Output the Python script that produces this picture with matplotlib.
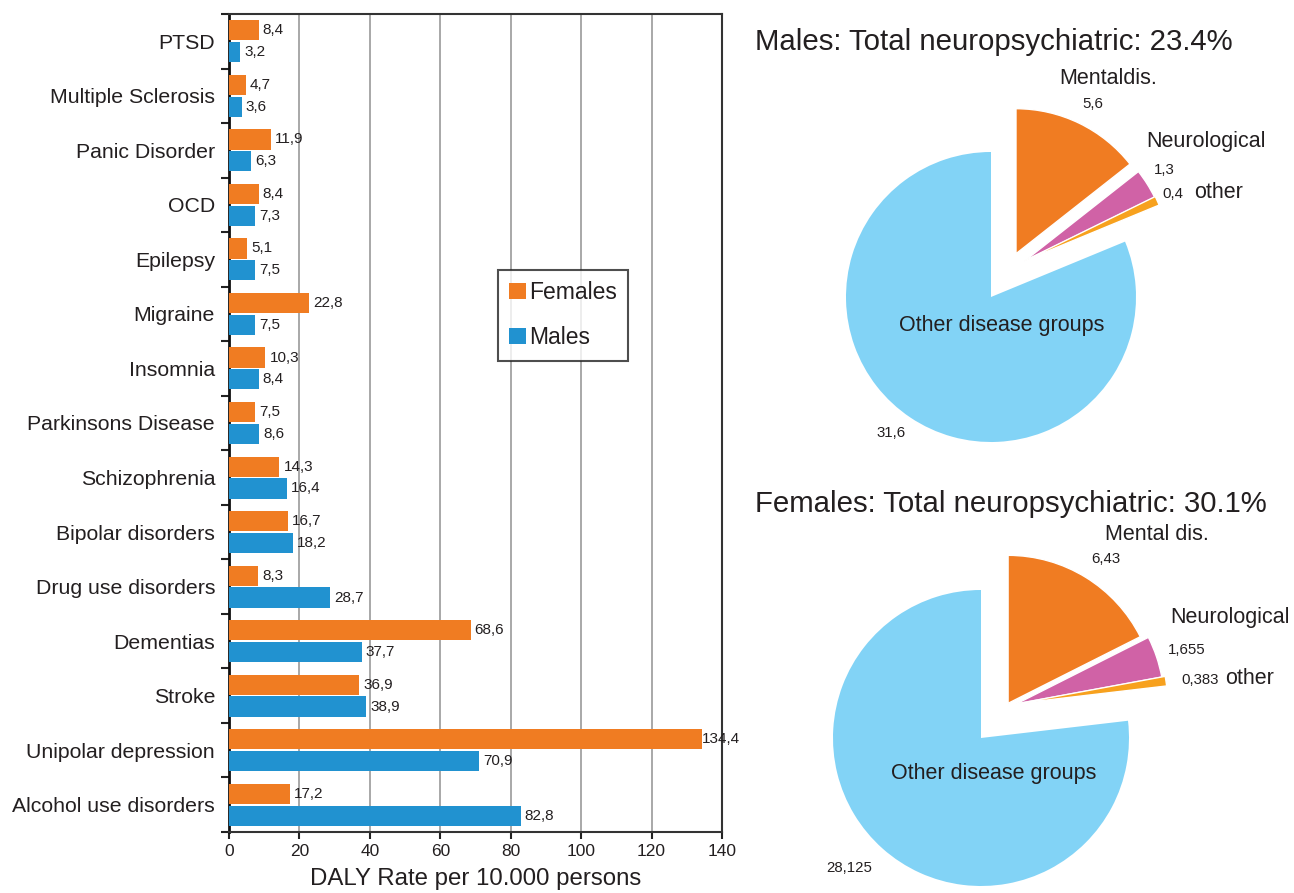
import math
import matplotlib
matplotlib.use('Agg')
import matplotlib.pyplot as plt
from matplotlib.patches import Patch
from matplotlib.ticker import FixedLocator

plt.rcParams['font.family'] = ['Liberation Sans', 'DejaVu Sans']

# ---------------- data ----------------
categories = ["PTSD", "Multiple Sclerosis", "Panic Disorder", "OCD", "Epilepsy",
              "Migraine", "Insomnia", "Parkinsons Disease", "Schizophrenia",
              "Bipolar disorders", "Drug use disorders", "Dementias", "Stroke",
              "Unipolar depression", "Alcohol use disorders"]
females = [8.4, 4.7, 11.9, 8.4, 5.1, 22.8, 10.3, 7.5, 14.3, 16.7, 8.3, 68.6, 36.9, 134.4, 17.2]
males = [3.2, 3.6, 6.3, 7.3, 7.5, 7.5, 8.4, 8.6, 16.4, 18.2, 28.7, 37.7, 38.9, 70.9, 82.8]
x_ticks = [0, 20, 40, 60, 80, 100, 120, 140]

male_pie_names = ["Mentaldis.", "Neurological", "other", "Other disease groups"]
male_pie = [5.6, 1.3, 0.4, 31.6]
male_pie_text = ["5,6", "1,3", "0,4", "31,6"]
female_pie_names = ["Mental dis.", "Neurological", "other", "Other disease groups"]
female_pie = [6.43, 1.655, 0.383, 28.125]
female_pie_text = ["6,43", "1,655", "0,383", "28,125"]
male_title = "Males: Total neuropsychiatric: 23.4%"
female_title = "Females: Total neuropsychiatric: 30.1%"

# ---------------- style ----------------
ORANGE = '#F07C22'
BLUE = '#2192D0'
PINK = '#D062A6'
YELLOW = '#F7A11E'
LIGHTBLUE = '#82D3F6'
TXT = '#231F20'
pie_colors = [ORANGE, PINK, YELLOW, LIGHTBLUE]

W, H = 1294, 893
fig = plt.figure(figsize=(W / 100, H / 100), dpi=100)

# ---------------- bar chart ----------------
L, R, T, B = 229, 722, 14, 832
ax = fig.add_axes([L / W, 1 - B / H, (R - L) / W, (B - T) / H])
n = len(categories)
pos = list(range(n))
bh = 0.37
ax.barh([p - 0.2 for p in pos], females, height=bh, color=ORANGE, zorder=3)
ax.barh([p + 0.2 for p in pos], males, height=bh, color=BLUE, zorder=3)
fmt = lambda v: f"{v:.1f}".replace('.', ',')
for p, v in zip(pos, females):
    off = -0.5 if v > 130 else 3
    ax.annotate(fmt(v), (v, p - 0.2), xytext=(off, 0), textcoords='offset points',
                va='center', ha='left', fontsize=11, color=TXT, zorder=4)
for p, v in zip(pos, males):
    ax.annotate(fmt(v), (v, p + 0.2), xytext=(3, 0), textcoords='offset points',
                va='center', ha='left', fontsize=11, color=TXT, zorder=4)

ax.set_ylim(n - 0.5, -0.5)
ax.set_xlim(0, 140)
ax.set_yticks(pos)
ax.set_yticklabels(categories, fontsize=15.3, color=TXT)
ax.yaxis.set_minor_locator(FixedLocator([p - 0.5 for p in range(n + 1)]))
ax.tick_params(axis='y', which='major', length=0, pad=10)
ax.tick_params(axis='y', which='minor', length=6, width=1.5, color='#222222', direction='out')
ax.set_xticks(x_ticks)
ax.set_xticklabels([str(t) for t in x_ticks], fontsize=12.5, color=TXT)
ax.tick_params(axis='x', length=5, width=1.5, color='#222222', direction='out', pad=4)
ax.grid(axis='x', color='#A8A8A8', linewidth=1.4, zorder=0)
ax.set_axisbelow(True)
for s in ax.spines.values():
    s.set_color('#333333')
    s.set_linewidth(1.5)
ax.spines['left'].set_color('#111111')
ax.spines['left'].set_linewidth(2)
ax.set_xlabel("DALY Rate per 10.000 persons", fontsize=17.3, color=TXT, labelpad=6)

handles = [Patch(facecolor=ORANGE, label='Females'), Patch(facecolor=BLUE, label='Males')]
leg = fig.legend(handles=handles, loc='upper left', bbox_to_anchor=(498 / W, 1 - 270 / H),
                 bbox_transform=fig.transFigure, fontsize=16.5, frameon=True, fancybox=False,
                 borderaxespad=0, handlelength=0.7, handleheight=0.7, handletextpad=0.15,
                 labelspacing=0.95, borderpad=0.5)
leg.get_frame().set_edgecolor('#222222')
leg.get_frame().set_linewidth(1.5)
for t in leg.get_texts():
    t.set_color(TXT)

# ---------------- pies (overlay axes in pixel units) ----------------
X0 = 740
pax = fig.add_axes([X0 / W, 0, (W - X0) / W, 1])

def py(y):
    return H - y

def draw_pie(values, center, radius, shifts):
    wedges, _ = pax.pie(values, colors=pie_colors, startangle=90, counterclock=False,
                        center=center, radius=radius,
                        wedgeprops=dict(edgecolor='white', linewidth=0))
    for w, (dist, ang) in zip(wedges, shifts):
        dx = dist * math.cos(math.radians(ang))
        dy = dist * math.sin(math.radians(ang))
        w.set_center((center[0] + dx, center[1] + dy))
        w.set_linewidth(1.0)
        w.set_edgecolor('white')
    return wedges

# (distance in px, direction in degrees) for the pulled-out slices
draw_pie(male_pie, (991, py(297)), 145, [(50, 60), (49, 47), (50, 47)])
draw_pie(female_pie, (981, py(738)), 148, [(44, 52), (49, 44), (52, 42)])
pax.set_xlim(X0, W)
pax.set_ylim(0, H)
pax.set_aspect('auto')
pax.axis('off')

pax.text(755, py(42), male_title, fontsize=21.2, color=TXT, ha='left', va='center')
pax.text(755, py(504), female_title, fontsize=21.2, color=TXT, ha='left', va='center')

name_fs = 15.5
val_fs = 10.8
# males labels
pax.text(1108, py(79), male_pie_names[0], fontsize=name_fs, color=TXT, ha='center', va='center')
pax.text(1093, py(104), male_pie_text[0], fontsize=val_fs, color=TXT, ha='center', va='center')
pax.text(1206, py(142), male_pie_names[1], fontsize=name_fs, color=TXT, ha='center', va='center')
pax.text(1164, py(170), male_pie_text[1], fontsize=val_fs, color=TXT, ha='center', va='center')
pax.text(1173, py(194), male_pie_text[2], fontsize=val_fs, color=TXT, ha='center', va='center')
pax.text(1219, py(192), male_pie_names[2], fontsize=name_fs, color=TXT, ha='center', va='center')
pax.text(1002, py(326), male_pie_names[3], fontsize=name_fs, color=TXT, ha='center', va='center')
pax.text(891, py(433), male_pie_text[3], fontsize=val_fs, color=TXT, ha='center', va='center')
# females labels
pax.text(1157, py(535), female_pie_names[0], fontsize=name_fs, color=TXT, ha='center', va='center')
pax.text(1106, py(559), female_pie_text[0], fontsize=val_fs, color=TXT, ha='center', va='center')
pax.text(1230, py(618), female_pie_names[1], fontsize=name_fs, color=TXT, ha='center', va='center')
pax.text(1187, py(650), female_pie_text[1], fontsize=val_fs, color=TXT, ha='center', va='center')
pax.text(1200, py(680), female_pie_text[2], fontsize=val_fs, color=TXT, ha='center', va='center')
pax.text(1250, py(679), female_pie_names[2], fontsize=name_fs, color=TXT, ha='center', va='center')
pax.text(994, py(774), female_pie_names[3], fontsize=name_fs, color=TXT, ha='center', va='center')
pax.text(849, py(868), female_pie_text[3], fontsize=val_fs, color=TXT, ha='center', va='center')

fig.savefig('out.png', dpi=100)
